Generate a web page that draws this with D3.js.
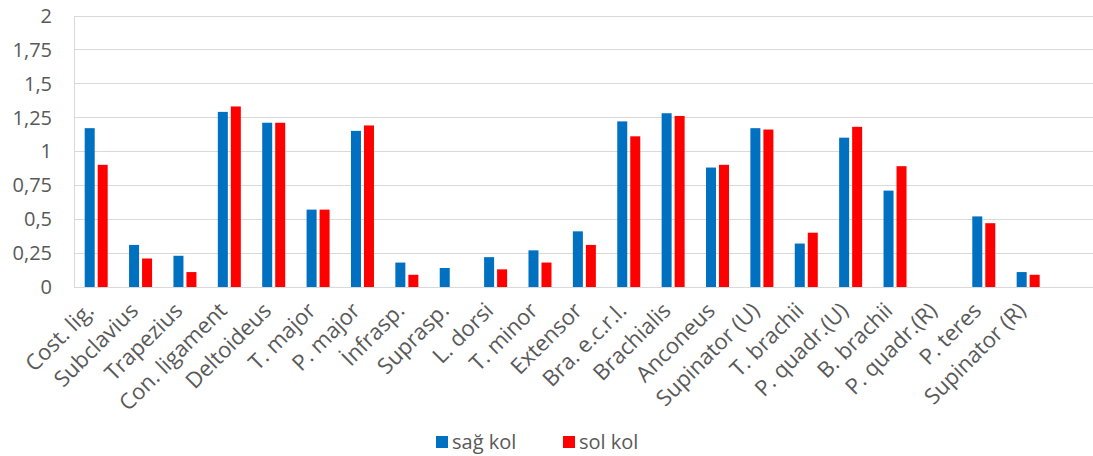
<!DOCTYPE html>
<html>
<head>
<meta charset="utf-8">
<script src="https://cdn.jsdelivr.net/npm/d3@7"></script>
<style>
  html, body { margin: 0; padding: 0; background: #fff; }
  svg { display: block; }
  text { font-family: "Open Sans", "Noto Sans", sans-serif; fill: #595959; }
</style>
</head>
<body>
<svg id="chart" width="1093" height="456"></svg>
<script>
// Muscle / ligament categories along the x axis
const categories = [
  "Cost. lig.", "Subclavius", "Trapezius", "Con. ligament", "Deltoideus",
  "T. major", "P. major", "İnfrasp.", "Suprasp.", "L. dorsi", "T. minor",
  "Extensor", "Bra. e.c.r.l.", "Brachialis", "Anconeus", "Supinator (U)",
  "T. brachii", "P. quadr.(U)", "B. brachii", "P. quadr.(R)", "P. teres",
  "Supinator (R)"
];

// Right arm values
const sagKol = [
  1.17, 0.31, 0.23, 1.29, 1.21, 0.57, 1.15, 0.18, 0.14, 0.22, 0.27,
  0.41, 1.22, 1.28, 0.88, 1.17, 0.32, 1.10, 0.71, 0, 0.52, 0.11
];

// Left arm values
const solKol = [
  0.90, 0.21, 0.11, 1.33, 1.21, 0.57, 1.19, 0.09, 0, 0.13, 0.18,
  0.31, 1.11, 1.26, 0.90, 1.16, 0.40, 1.18, 0.89, 0, 0.47, 0.09
];

const seriesNames = ["sağ kol", "sol kol"];
const seriesColors = ["#0070C0", "#FF0000"];
const yTicks = [0, 0.25, 0.5, 0.75, 1, 1.25, 1.5, 1.75, 2];

const svg = d3.select("#chart");
const W = 1093;
const plotLeft = 74, plotTop = 15.5, plotBottom = 287;
const slot = 44.38;

const x = d3.scaleBand()
  .domain(categories)
  .range([plotLeft, plotLeft + slot * categories.length])
  .paddingInner(0)
  .paddingOuter(0);

const y = d3.scaleLinear().domain([0, 2]).range([plotBottom, plotTop]);

const fmt = v => String(v).replace(".", ",");

// Horizontal gridlines
svg.append("g")
  .selectAll("line")
  .data(yTicks)
  .join("line")
  .attr("x1", plotLeft)
  .attr("x2", W)
  .attr("y1", d => Math.round(y(d)) + 0.5)
  .attr("y2", d => Math.round(y(d)) + 0.5)
  .attr("stroke", "#d9d9d9")
  .attr("stroke-width", 1.2);

// Left border of the plot area
svg.append("line")
  .attr("x1", plotLeft + 0.5).attr("x2", plotLeft + 0.5)
  .attr("y1", Math.round(y(2)) + 0.5).attr("y2", Math.round(y(0)) + 0.5)
  .attr("stroke", "#d9d9d9")
  .attr("stroke-width", 1);

// Y axis labels
svg.append("g")
  .selectAll("text")
  .data(yTicks)
  .join("text")
  .attr("x", 52)
  .attr("y", d => y(d))
  .attr("dy", "0.36em")
  .attr("text-anchor", "end")
  .attr("font-size", 20)
  .text(fmt);

// Bars
const barW = 10, gap = 3;
const groups = svg.append("g")
  .selectAll("g")
  .data(categories.map((c, i) => ({ c, vals: [sagKol[i], solKol[i]] })))
  .join("g")
  .attr("transform", d => `translate(${x(d.c) + x.bandwidth() / 2},0)`);

groups.selectAll("rect")
  .data(d => d.vals.map((v, k) => ({ v, k })))
  .join("rect")
  .filter(d => d.v > 0)
  .attr("x", d => d.k === 0 ? -(barW + gap / 2) : gap / 2)
  .attr("y", d => y(d.v))
  .attr("width", barW)
  .attr("height", d => y(0) - y(d.v))
  .attr("fill", d => seriesColors[d.k]);

// Category labels, rotated
svg.append("g")
  .selectAll("text")
  .data(categories)
  .join("text")
  .attr("transform", d => `translate(${x(d) + x.bandwidth() / 2 - 1},${plotBottom + 25}) rotate(-45)`)
  .attr("text-anchor", "end")
  .attr("font-size", 22)
  .text(d => d);

// Legend
const legend = svg.append("g");
const legendItems = [
  { name: seriesNames[0], color: seriesColors[0], x: 436 },
  { name: seriesNames[1], color: seriesColors[1], x: 563 }
];
legend.selectAll("rect")
  .data(legendItems)
  .join("rect")
  .attr("x", d => d.x)
  .attr("y", 436)
  .attr("width", 12)
  .attr("height", 12)
  .attr("fill", d => d.color);
legend.selectAll("text")
  .data(legendItems)
  .join("text")
  .attr("x", d => d.x + 16)
  .attr("y", 449)
  .attr("font-size", 20)
  .text(d => d.name);
</script>
</body>
</html>
